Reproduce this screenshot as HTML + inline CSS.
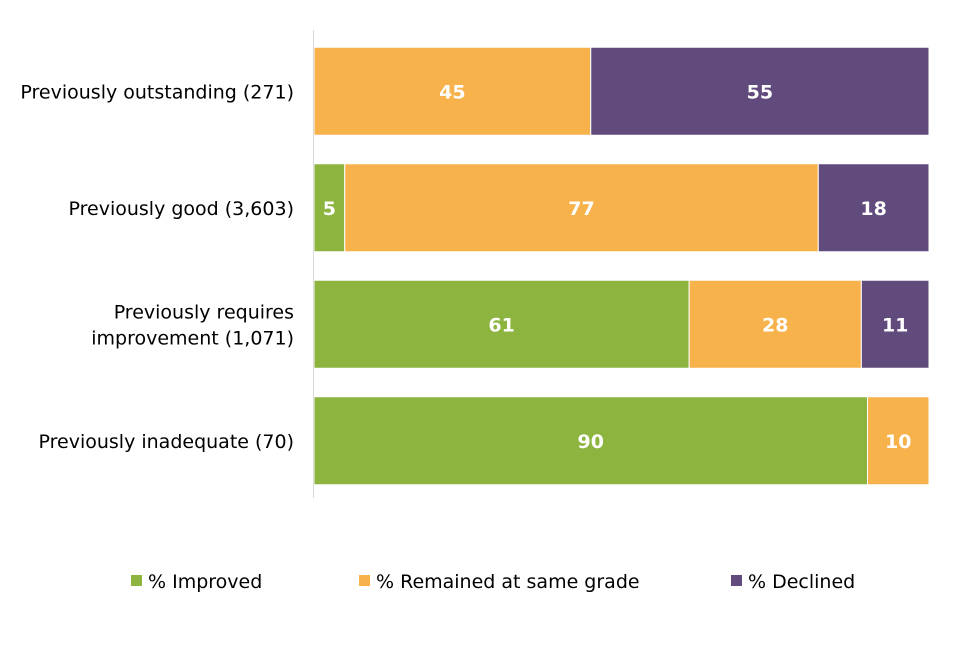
<!DOCTYPE html>
<html><head><meta charset="utf-8"><style>
body{margin:0;background:#fff;}
svg text{font-family:"DejaVu Sans","Liberation Sans",sans-serif;}
</style></head><body>
<svg id="chart" width="960" height="640" viewBox="0 0 960 640" xmlns="http://www.w3.org/2000/svg"></svg>
<script>
const categories=["Previously outstanding (271)","Previously good (3,603)","Previously requires|improvement (1,071)","Previously inadequate (70)"];
const improved=[0,5,61,90];
const remained=[45,77,28,10];
const declined=[55,18,11,0];
const seriesNames=["% Improved","% Remained at same grade","% Declined"];
const colors=["#8cb43f","#f8b24c","#614a7c"];
const NS="http://www.w3.org/2000/svg";
const svg=document.getElementById('chart');
const x0=314,x1=929;
function xs(v){return x0+(x1-x0)*v/100;}
const bandTop=33,bandH=116.5,barH=88;
function yb(i){return bandTop+i*bandH+(bandH-barH)/2;}
function mk(t,a){const e=document.createElementNS(NS,t);for(const k in a)e.setAttribute(k,a[k]);svg.appendChild(e);return e;}
const series=[improved,remained,declined];
const snames=['improved','remained','declined'];
categories.forEach((c,i)=>{
  let acc=0;
  series.forEach((s,j)=>{
    const v=s[i];
    if(v>0){
      const r=mk('rect',{x:xs(acc),y:yb(i),width:xs(acc+v)-xs(acc),height:barH,fill:colors[j],stroke:'#fff','stroke-width':1});
      
      
      const t=mk('text',{x:(xs(acc)+xs(acc+v))/2,y:yb(i)+barH/2+7,'text-anchor':'middle','font-size':19,'font-weight':'bold',fill:'#fff'});
      t.textContent=v;
      
      
    }
    acc+=v;
  });
  const lines=c.split('|');
  lines.forEach((ln,k)=>{
    const t=mk('text',{x:294,y:yb(i)+barH/2+7+(k-(lines.length-1)/2)*26,'text-anchor':'end','font-size':19,fill:'#000'});
    t.textContent=ln;
    
    
  });
});
const ax=mk('line',{x1:313.5,y1:30,x2:313.5,y2:498,stroke:'#d9d9d9','stroke-width':1});


const lx=[131,359,731];
seriesNames.forEach((n,j)=>{
  const r=mk('rect',{x:lx[j],y:575,width:11,height:11,fill:colors[j]});
  
  
  const t=mk('text',{x:lx[j]+17,y:588,'font-size':19,fill:'#000'});
  t.textContent=n;
  
  
});
</script>
</body></html>
